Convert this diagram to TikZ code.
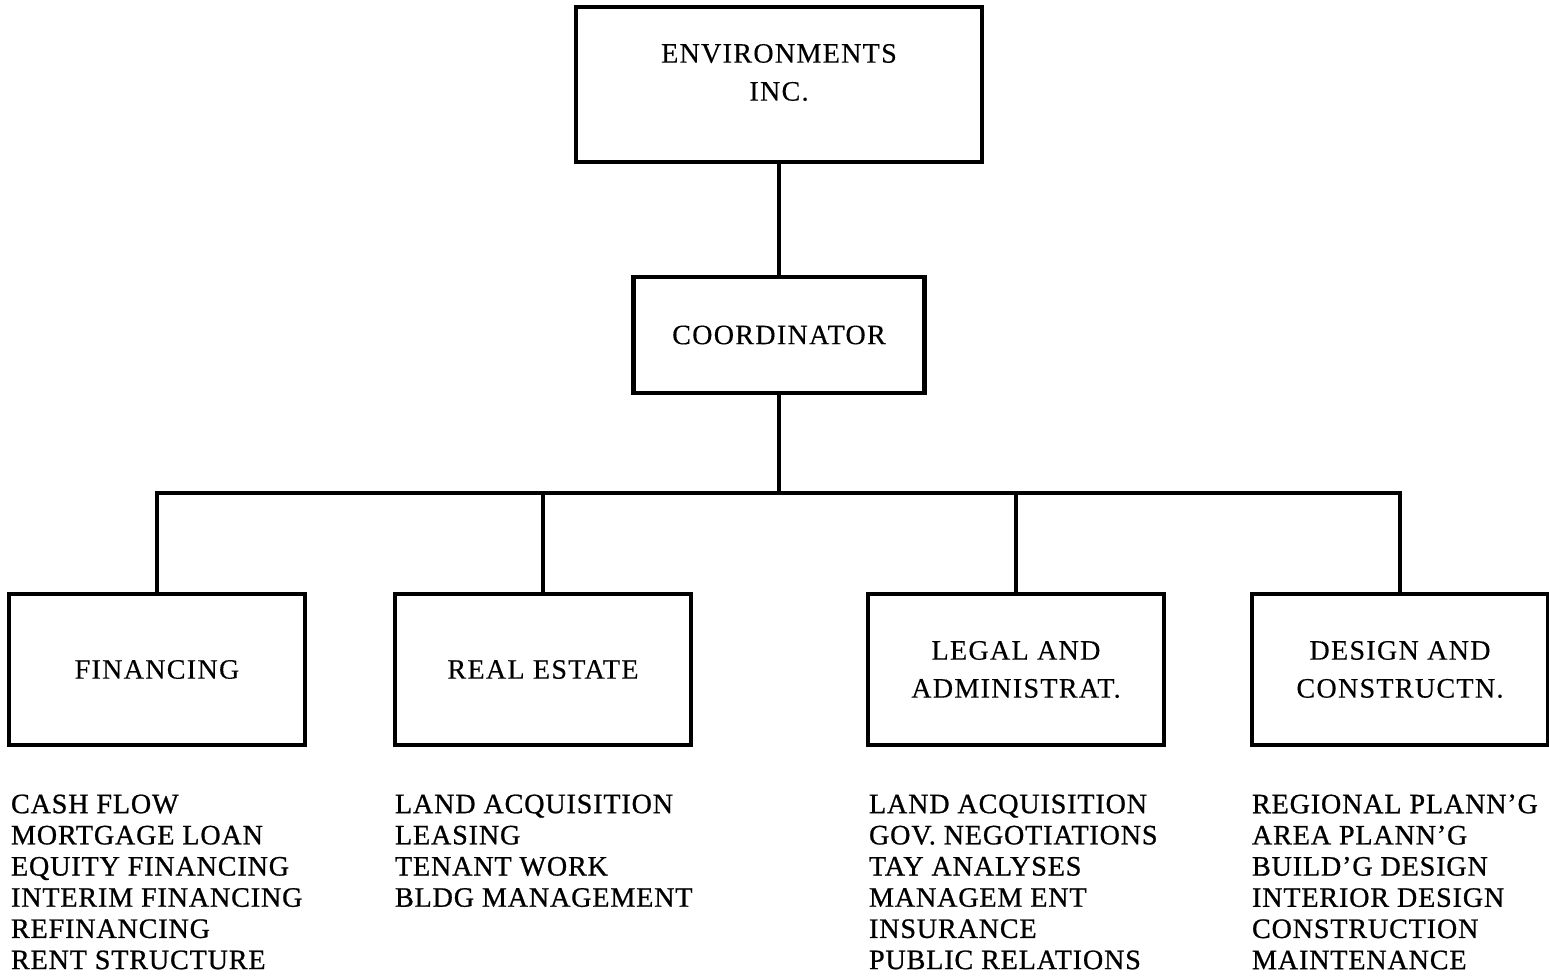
\documentclass[tikz,border=0pt]{standalone}
\usepackage{fontspec}
\setmainfont{Liberation Serif}
\newfontfamily\orgboxfont{Liberation Serif}[LetterSpace=4.5, FakeBold=0.3]
\newfontfamily\orglistfont{Liberation Serif}[LetterSpace=3, FakeBold=0.8]
\usetikzlibrary{positioning}
\begin{document}
\begin{tikzpicture}[x=0.02cm, y=-0.02cm, line width=2.6pt,
    unit box/.style={rectangle, draw, line width=2.6pt, align=center, inner sep=0pt, font=\orgboxfont\fontsize{16}{21.6}\selectfont},
    dept box/.style={unit box, minimum width=5.92cm, minimum height=3.02cm},
    duty list/.style={align=left, inner sep=0pt, font=\orglistfont\fontsize{16}{17.75}\selectfont},
    elbow/.style={to path={-| (\tikztotarget)}}]
        \useasboundingbox (0,0) rectangle (1549,975);

          \node[unit box, minimum width=8.12cm, minimum height=3.1cm,
                label={[unit box, draw=none, yshift=0.24cm]center:ENVIRONMENTS\\INC.}] (env) at (779,84.5) {};
          \node[unit box, minimum width=5.82cm, minimum height=2.32cm] (coord) at (779,335) {COORDINATOR};
          \coordinate (bus) at (779,493);

          \node[dept box] (fin) at (157,669.5) {FINANCING};
          \node[dept box] (estate) at (543,669.5) {REAL ESTATE};
          \node[dept box] (legal) at (1016,669.5) {LEGAL AND\\ADMINISTRAT.};
          \node[dept box] (design) at (1400,669.5) {DESIGN AND\\CONSTRUCTN.};

          \node[duty list, below right=0.9cm and 0.04cm of fin.south west] (finlist)
            {CASH FLOW\\MORTGAGE LOAN\\EQUITY FINANCING\\INTERIM FINANCING\\REFINANCING\\RENT STRUCTURE};
          \node[duty list, below right=0.9cm and 0cm of estate.south west] (estatelist)
            {LAND ACQUISITION\\LEASING\\TENANT WORK\\BLDG MANAGEMENT};
          \node[duty list, below right=0.9cm and 0.02cm of legal.south west] (legallist)
            {LAND ACQUISITION\\GOV. NEGOTIATIONS\\TAY ANALYSES\\MANAGEM ENT\\INSURANCE\\PUBLIC RELATIONS};
          \node[duty list, below right=0.9cm and 0cm of design.south west] (designlist)
            {REGIONAL PLANN’G\\AREA PLANN’G\\BUILD’G DESIGN\\INTERIOR DESIGN\\CONSTRUCTION\\MAINTENANCE};

          \path[draw]
            (env) edge (coord)
            (coord) edge (bus)
            (bus) edge[elbow] (fin.north)
            	edge[elbow] (estate.north)
            	edge[elbow] (legal.north)
            	edge[elbow] (design.north);

        \end{tikzpicture}
\end{document}
